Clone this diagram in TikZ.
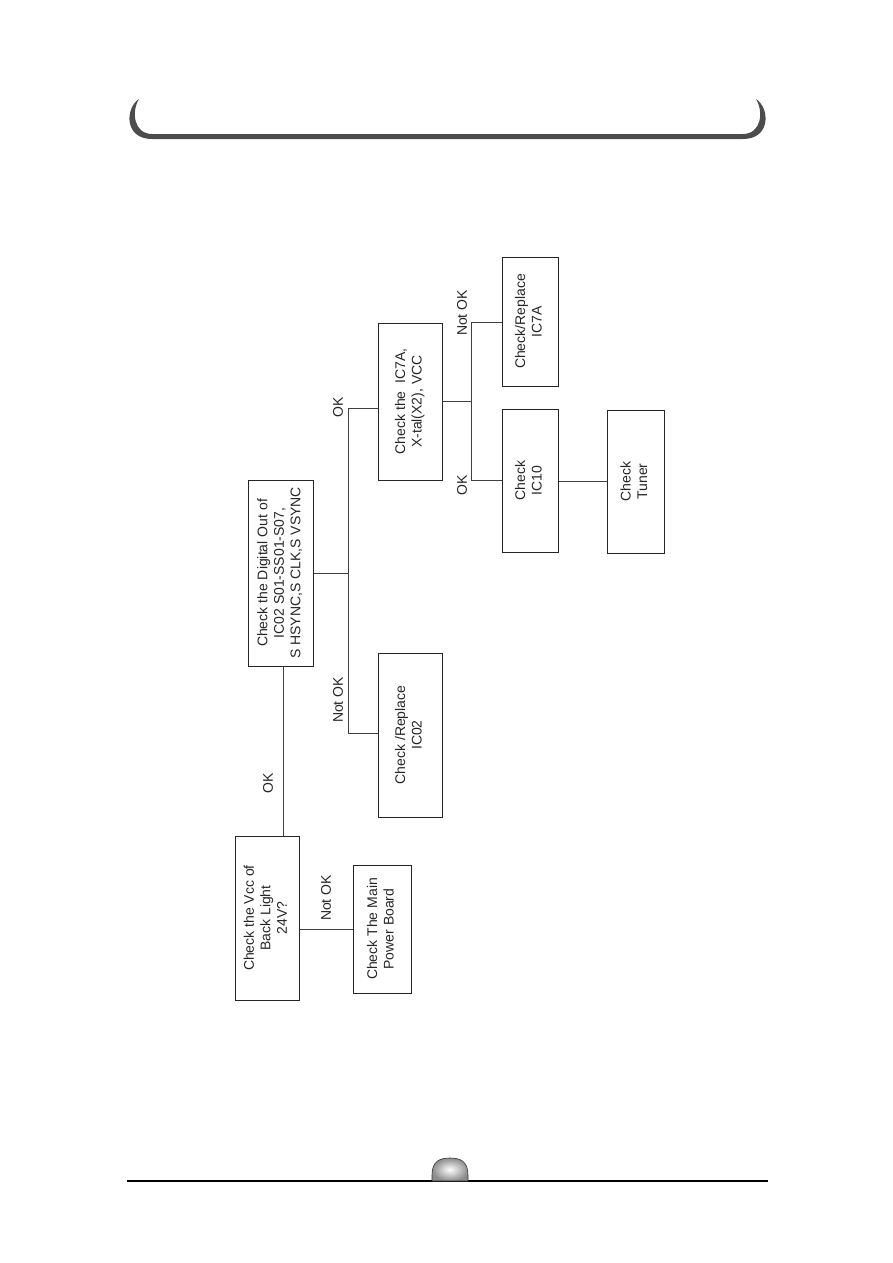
\documentclass[tikz,border=0pt]{standalone}
\usepackage{fontspec}
\setmainfont{Liberation Sans}
\usetikzlibrary{calc}
\newcommand\vtxt[1]{\rotatebox{90}{\begin{tabular}{@{}c@{}}#1\end{tabular}}}
\begin{document}
\begin{tikzpicture}[x=1pt,y=-1pt,
  box/.style={draw=black!85, line width=1pt, inner sep=0pt, font=\fontsize{14}{16.5}\selectfont, text=black!85},
  lbl/.style={inner sep=0pt, font=\fontsize{14}{16}\selectfont, text=black!85},
  wire/.style={draw=black!75, line width=1pt},
  hdr/.style={fill=black!70}]
\useasboundingbox (0,0) rectangle (893,1263);
% header
\fill[hdr] (139,99) .. controls (125,108) and (124,139) .. (152,139) -- (743,139)
  .. controls (771,139) and (770,108) .. (756,99)
  .. controls (764,112) and (761,134) .. (743,134) -- (152,134)
  .. controls (134,134) and (131,112) .. (139,99) -- cycle;
% footer
\draw[line width=1.4pt] (127,1181) -- (768,1181);
\shade[inner color=white, outer color=black!45, draw=black!80, line width=0.6pt]
  (432,1181) -- (432,1175) .. controls (432,1161) and (440,1158) .. (450,1158)
  .. controls (460,1158) and (468,1161) .. (468,1175) -- (468,1181) -- cycle;
% boxes
\node[box, minimum width=64pt, minimum height=164pt] (b1) at (267,918) {\vtxt{Check the Vcc of\\Back Light\\24V?}};
\node[box, minimum width=58pt, minimum height=128pt] (b2) at (382,929) {\vtxt{Check The Main\\Power Board}};
\node[box, minimum width=65pt, minimum height=186pt] (b3) at (280.5,573) {\vtxt{Check the Digital Out of\\IC02 S01-SS01-S07,\\S HSYNC,S CLK,S VSYNC}};
\node[box, minimum width=64pt, minimum height=157pt] (b4) at (410,401.5) {\vtxt{Check the\ \ IC7A,\\X-tal(X2), VCC}};
\node[box, minimum width=64pt, minimum height=164pt] (b5) at (410,735) {\vtxt{Check /Replace\\IC02}};
\node[box, minimum width=56pt, minimum height=129pt] (b6) at (530,321.5) {\vtxt{Check/Replace\\IC7A}};
\node[box, minimum width=56pt, minimum height=143pt] (b7) at (530,480.5) {\vtxt{Check\\IC10}};
\node[box, minimum width=57pt, minimum height=143pt] (b8) at (635.5,481.5) {\vtxt{Check\\Tuner}};
% junction coordinates
\coordinate (c1) at (283,750);
\coordinate (t1) at (348,408);
\coordinate (u1) at (348,733);
\coordinate (t2) at (471,322);
\coordinate (u2) at (471,480);
% connectors
\draw[wire] (b1.north -| c1) -- (b3.south -| c1);
\draw[wire] (b1.east |- b2.west) -- (b2.west);
\draw[wire] (b3.east) -- (b3.east -| t1);
\draw[wire] (t1) -- (u1);
\draw[wire] (t1) -- (t1 -| b4.west);
\draw[wire] (u1) -- (u1 -| b5.west);
\draw[wire] (b4.east) -- (b4.east -| t2);
\draw[wire] (t2) -- (u2);
\draw[wire] (t2) -- (t2 -| b6.west);
\draw[wire] (u2) -- (u2 -| b7.west);
\draw[wire] (b7.east |- b8.west) -- (b8.west);
% labels
\node[lbl] (l1) at (268,783) {\rotatebox{90}{OK}};
\node[lbl] (l2) at (326,898) {\rotatebox{90}{Not OK}};
\node[lbl] (l3) at (338,407) {\rotatebox{90}{OK}};
\node[lbl] (l4) at (338,700) {\rotatebox{90}{Not OK}};
\node[lbl] (l5) at (462,313) {\rotatebox{90}{Not OK}};
\node[lbl] (l6) at (462,485) {\rotatebox{90}{OK}};
\end{tikzpicture}
\end{document}
